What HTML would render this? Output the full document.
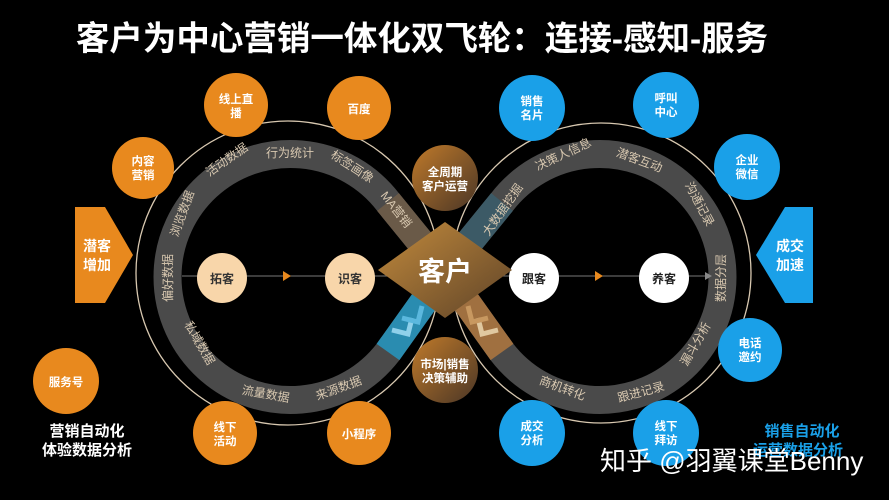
<!DOCTYPE html>
<html><head><meta charset="utf-8"><style>
html,body{margin:0;padding:0;background:#000;}
svg{display:block;font-family:"Liberation Sans","Noto Sans CJK SC",sans-serif;}
</style></head><body>
<svg width="889" height="500" viewBox="0 0 889 500" xmlns="http://www.w3.org/2000/svg">
<defs>
<linearGradient id="dia" x1="0" y1="0" x2="1" y2="1">
<stop offset="0" stop-color="#c28a3c"/><stop offset="1" stop-color="#5e4328"/></linearGradient>
<linearGradient id="brn" x1="0" y1="0" x2="1" y2="1">
<stop offset="0" stop-color="#c07a2a"/><stop offset="1" stop-color="#4a3626"/></linearGradient>
</defs>
<rect width="889" height="500" fill="#000"/>
<text x="422" y="50" text-anchor="middle" font-size="33.5" font-weight="bold" fill="#fff">客户为中心营销一体化双飞轮：连接-感知-服务</text>

<circle cx="288" cy="273" r="152" fill="none" stroke="#d8c8b0" stroke-width="1.3"/>
<circle cx="601" cy="273" r="150" fill="none" stroke="#d8c8b0" stroke-width="1.3"/>

<path d="M445,272 L388,202 A123,123 0 1 0 388,352 Z" fill="none" stroke="#4a4a4a" stroke-width="28" stroke-linejoin="round"/>
<path d="M445,272 L502,202 A123,123 0 1 1 502,352 Z" fill="none" stroke="#4a4a4a" stroke-width="28" stroke-linejoin="round"/>
<line x1="445" y1="272" x2="388" y2="202" stroke="#6a5a48" stroke-width="28"/>
<line x1="445" y1="272" x2="502" y2="202" stroke="#3c5a66" stroke-width="28"/>
<line x1="445" y1="272" x2="388" y2="352" stroke="#2a8cb0" stroke-width="28"/>
<line x1="445" y1="272" x2="502" y2="352" stroke="#a07040" stroke-width="28"/>
<g fill="none" stroke-width="5">
<path d="M392,330 l16,4 l4,-16" stroke="#8fd0ea"/>
<path d="M402,318 l16,4 l4,-16" stroke="#5bb8de"/>
<path d="M498,330 l-16,4 l-4,-16" stroke="#e0c8a0"/>
<path d="M488,318 l-16,4 l-4,-16" stroke="#c89860"/>
</g>

<g font-size="12" fill="#d8c8b0" text-anchor="middle">
<text transform="translate(186,215) rotate(-70)">浏览数据</text>
<text transform="translate(229,163) rotate(-35)">活动数据</text>
<text transform="translate(290,157)">行为统计</text>
<text transform="translate(350,170) rotate(33)">标签画像</text>
<text transform="translate(393,212) rotate(52)">MA营销</text>
<text transform="translate(172,278) rotate(-90)">偏好数据</text>
<text transform="translate(196,345) rotate(60)">私域数据</text>
<text transform="translate(265,398) rotate(10)">流量数据</text>
<text transform="translate(340,392) rotate(-20)">来源数据</text>
<text transform="translate(506,212) rotate(-55)">大数据挖掘</text>
<text transform="translate(565,158) rotate(-25)">决策人信息</text>
<text transform="translate(638,164) rotate(20)">潜客互动</text>
<text transform="translate(696,206) rotate(62)">沟通记录</text>
<text transform="translate(725,278) rotate(-90)">数据分层</text>
<text transform="translate(699,346) rotate(-60)">漏斗分析</text>
<text transform="translate(642,396) rotate(-15)">跟进记录</text>
<text transform="translate(561,392) rotate(20)">商机转化</text>
</g>

<line x1="182" y1="276" x2="450" y2="276" stroke="#777" stroke-width="1"/>
<line x1="445" y1="276" x2="710" y2="276" stroke="#777" stroke-width="1"/>
<path d="M283,271 l8,5 l-8,5 z" fill="#e8891e"/>
<path d="M595,271 l8,5 l-8,5 z" fill="#e8891e"/>
<path d="M705,272 l7,4 l-7,4 z" fill="#888"/>
<g font-size="12" font-weight="bold" text-anchor="middle">
<circle cx="222" cy="278" r="25" fill="#f8d6aa"/><text x="222" y="283" fill="#333">拓客</text>
<circle cx="350" cy="278" r="25" fill="#f8d6aa"/><text x="350" y="283" fill="#333">识客</text>
<circle cx="534" cy="278" r="25" fill="#fff"/><text x="534" y="283" fill="#222">跟客</text>
<circle cx="664" cy="278" r="25" fill="#fff"/><text x="664" y="283" fill="#222">养客</text>
</g>

<path d="M445,222 L512,270 L445,318 L378,270 Z" fill="url(#dia)"/>
<text x="445" y="281" text-anchor="middle" font-size="27" font-weight="bold" fill="#fff">客户</text>

<path d="M75,207 L105,207 L133,255 L105,303 L75,303 Z" fill="#e8891e"/>
<text x="97" y="251" text-anchor="middle" font-size="14" font-weight="bold" fill="#fff">潜客</text>
<text x="97" y="270" text-anchor="middle" font-size="14" font-weight="bold" fill="#fff">增加</text>
<path d="M813,207 L785,207 L756,255 L785,303 L813,303 Z" fill="#1aa0e8"/>
<text x="790" y="251" text-anchor="middle" font-size="14" font-weight="bold" fill="#fff">成交</text>
<text x="790" y="270" text-anchor="middle" font-size="14" font-weight="bold" fill="#fff">加速</text>

<g font-size="11.5" font-weight="bold" fill="#fff" text-anchor="middle">
<circle cx="236" cy="105" r="32" fill="#e8891e"/><text x="236" y="103">线上直</text><text x="236" y="117">播</text>
<circle cx="359" cy="108" r="32" fill="#e8891e"/><text x="359" y="113">百度</text>
<circle cx="143" cy="168" r="31" fill="#e8891e"/><text x="143" y="165">内容</text><text x="143" y="179">营销</text>
<circle cx="445" cy="178" r="33" fill="url(#brn)"/><text x="445" y="176">全周期</text><text x="445" y="190">客户运营</text>
<circle cx="445" cy="370" r="33" fill="url(#brn)"/><text x="445" y="368">市场|销售</text><text x="445" y="382">决策辅助</text>
<circle cx="225" cy="433" r="32" fill="#e8891e"/><text x="225" y="431">线下</text><text x="225" y="445">活动</text>
<circle cx="359" cy="433" r="32" fill="#e8891e"/><text x="359" y="438">小程序</text>
<circle cx="66" cy="381" r="33" fill="#e8891e"/><text x="66" y="386">服务号</text>
<circle cx="532" cy="108" r="33" fill="#1aa0e8"/><text x="532" y="105">销售</text><text x="532" y="119">名片</text>
<circle cx="666" cy="105" r="33" fill="#1aa0e8"/><text x="666" y="102">呼叫</text><text x="666" y="116">中心</text>
<circle cx="747" cy="167" r="33" fill="#1aa0e8"/><text x="747" y="164">企业</text><text x="747" y="178">微信</text>
<circle cx="750" cy="350" r="32" fill="#1aa0e8"/><text x="750" y="347">电话</text><text x="750" y="361">邀约</text>
<circle cx="532" cy="433" r="33" fill="#1aa0e8"/><text x="532" y="430">成交</text><text x="532" y="444">分析</text>
<circle cx="666" cy="433" r="33" fill="#1aa0e8"/><text x="666" y="430">线下</text><text x="666" y="444">拜访</text>
</g>

<text x="87" y="436" text-anchor="middle" font-size="15" font-weight="bold" fill="#fff">营销自动化</text>
<text x="87" y="455" text-anchor="middle" font-size="15" font-weight="bold" fill="#fff">体验数据分析</text>
<text x="802" y="436" text-anchor="middle" font-size="15" font-weight="bold" fill="#1aa0e8">销售自动化</text>
<text x="798" y="455" text-anchor="middle" font-size="15" font-weight="bold" fill="#1aa0e8">运营数据分析</text>
<text x="600" y="470" font-size="26" fill="#fff">知乎 @羽翼课堂Benny</text>
</svg>
</body></html>
